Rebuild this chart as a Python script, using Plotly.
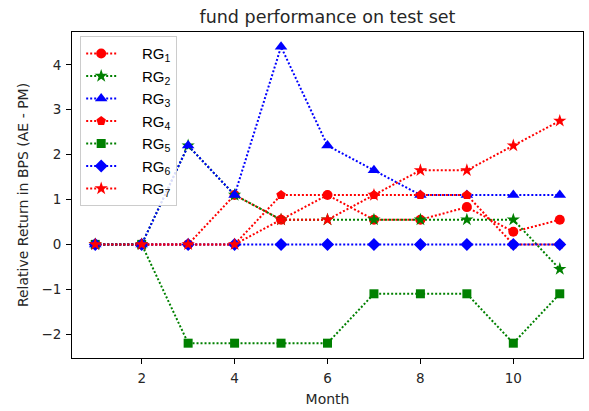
import plotly.graph_objects as go

months = [1, 2, 3, 4, 5, 6, 7, 8, 9, 10, 11]
rg1 = [0, 0, 0, 1.1, 0.55, 1.1, 0.55, 0.55, 0.83, 0.28, 0.55]
rg2 = [0, 0, 2.2, 1.1, 0.55, 0.55, 0.55, 0.55, 0.55, 0.55, -0.55]
rg3 = [0, 0, 2.2, 1.1, 4.4, 2.2, 1.65, 1.1, 1.1, 1.1, 1.1]
rg4 = [0, 0, 0, 0, 1.1, 1.1, 1.1, 1.1, 1.1, 0, 0]
rg5 = [0, 0, -2.2, -2.2, -2.2, -2.2, -1.1, -1.1, -1.1, -2.2, -1.1]
rg6 = [0, 0, 0, 0, 0, 0, 0, 0, 0, 0, 0]
rg7 = [0, 0, 0, 0, 0.55, 0.55, 1.1, 1.65, 1.65, 2.2, 2.75]

series = [
    ("1", rg1, "#ff0000", "circle", 10),
    ("2", rg2, "#008000", "star", 10),
    ("3", rg3, "#0000ff", "triangle-up", 11),
    ("4", rg4, "#ff0000", "pentagon", 10),
    ("5", rg5, "#008000", "square", 9),
    ("6", rg6, "#0000ff", "diamond", 10),
    ("7", rg7, "#ff0000", "star", 10),
]

fig = go.Figure()
for idx, vals, col, sym, sz in series:
    fig.add_trace(go.Scatter(
        x=months, y=vals, mode="lines+markers",
        name="\u00a0" * 5 + "RG<sub>" + idx + "</sub>",
        line=dict(color=col, width=2, dash="2px,2px"),
        marker=dict(color=col, symbol=sym, size=sz, line=dict(width=0)),
    ))

fig.update_layout(
    width=589, height=411,
    margin=dict(l=72, r=6, t=32, b=53, autoexpand=False),
    paper_bgcolor="white", plot_bgcolor="white",
    font=dict(family="DejaVu Sans", size=13, color="#262626"),
    title=dict(text="fund performance on test set", x=0.5, xref="paper",
               xanchor="center", y=1 - 17/411, yanchor="middle",
               font=dict(size=17.5, color="#262626")),
    showlegend=True,
    legend=dict(x=0.016, y=0.987, xanchor="left", yanchor="top",
                bgcolor="rgba(255,255,255,0.85)", bordercolor="#cccccc",
                borderwidth=1, font=dict(family="Liberation Sans", size=15, color="black")),
    xaxis=dict(range=[0.5, 11.5], tickvals=[2, 4, 6, 8, 10], showgrid=False,
               zeroline=False, showline=True, linecolor="black", linewidth=1,
               mirror=True, ticks="outside", ticklen=5, tickcolor="black",
               ticklabelstandoff=3, automargin=False, tickfont=dict(size=13.5),
               title=dict(text="Month", standoff=8, font=dict(size=14))),
    yaxis=dict(range=[-2.53, 4.73], tickvals=[-2, -1, 0, 1, 2, 3, 4],
               ticktext=["\u22122", "\u22121", "0", "1", "2", "3", "4"],
               showgrid=False, zeroline=False, showline=True, linecolor="black",
               linewidth=1, mirror=True, ticks="outside", ticklen=5,
               tickcolor="black", ticklabelstandoff=2, automargin=False,
               tickfont=dict(size=13.5),
               title=dict(text="Relative Return in BPS (AE - PM)", standoff=9,
                          font=dict(size=14))),
)

fig.write_html("out.html", config={"displayModeBar": False},
               post_script="document.body.style.margin='0';document.body.style.overflow='hidden';")
